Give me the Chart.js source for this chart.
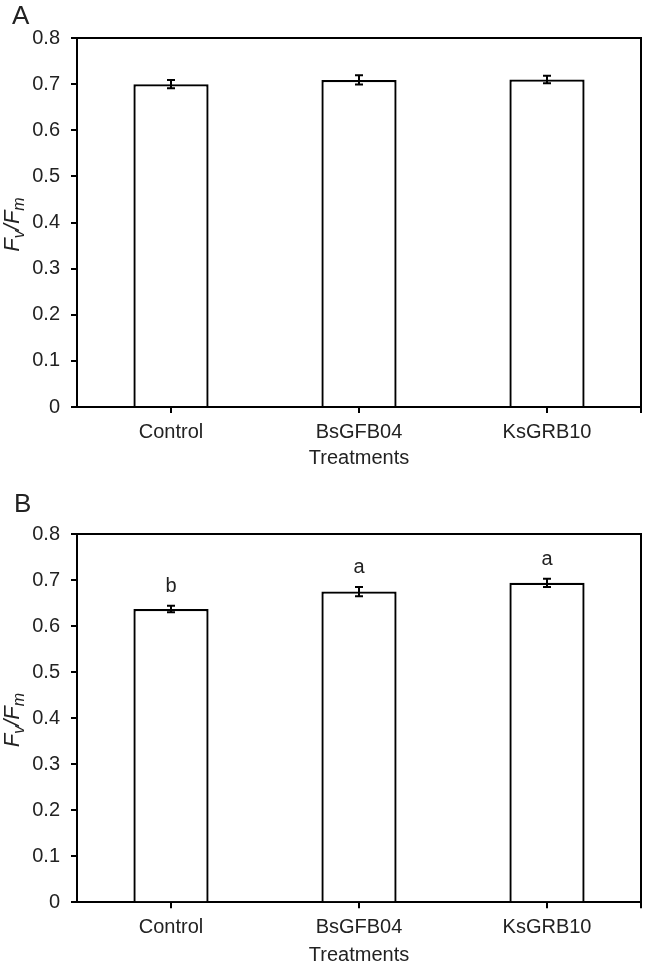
<!DOCTYPE html>
<html>
<head>
<meta charset="utf-8">
<script src="https://cdn.jsdelivr.net/npm/chart.js@4.4.0/dist/chart.umd.min.js"></script>
<style>
  html, body { margin:0; padding:0; background:#fff; width:645px; height:964px; overflow:hidden; }
  .wrap { position:absolute; left:0; width:645px; }
  #wa { top:0; height:482px; }
  #wb { top:482px; height:500px; }
  canvas { display:block; }
</style>
</head>
<body>
<div class="wrap" id="wa"><canvas id="ca" width="645" height="482"></canvas></div>
<div class="wrap" id="wb"><canvas id="cb" width="645" height="500"></canvas></div>
<script>
// ---- Data ----
const categories = ['Control', 'BsGFB04', 'KsGRB10'];
const valuesA = [0.700, 0.709, 0.710];
const errorsA = [0.009, 0.010, 0.008];
const valuesB = [0.637, 0.675, 0.694];
const errorsB = [0.007, 0.010, 0.009];
const lettersB = ['b', 'a', 'a'];
const yTicks = [0, 0.1, 0.2, 0.3, 0.4, 0.5, 0.6, 0.7, 0.8];
const xTitle = 'Treatments';

const FONT = '"Liberation Sans", Arial, Helvetica, sans-serif';
const TXT = '#222';

const decorPlugin = {
  id: 'decor',
  afterDatasetsDraw(chart, args, opts) {
    const ctx = chart.ctx;
    const ca = chart.chartArea;
    const ys = chart.scales.y;
    const meta = chart.getDatasetMeta(0);
    const vals = chart.data.datasets[0].data;
    ctx.save();
    // frame top & right
    ctx.strokeStyle = '#000';
    ctx.lineWidth = 2;
    ctx.beginPath();
    ctx.moveTo(ca.left, ca.top);
    ctx.lineTo(ca.right, ca.top);
    ctx.lineTo(ca.right, ca.bottom + 6);
    ctx.stroke();
    // error bars
    opts.errors.forEach((e, i) => {
      const x = meta.data[i].x;
      const yTop = ys.getPixelForValue(vals[i] + e);
      const yBot = ys.getPixelForValue(vals[i] - e);
      ctx.lineWidth = 2;
      ctx.beginPath();
      ctx.moveTo(x, yTop); ctx.lineTo(x, yBot);
      ctx.moveTo(x - 4, yTop); ctx.lineTo(x + 4, yTop);
      ctx.moveTo(x - 4, yBot); ctx.lineTo(x + 4, yBot);
      ctx.stroke();
      if (opts.letters) {
        ctx.fillStyle = TXT;
        ctx.font = '20px ' + FONT;
        ctx.textAlign = 'center';
        ctx.textBaseline = 'middle';
        ctx.fillText(opts.letters[i], x, yTop - 19);
      }
    });
    // panel letter
    ctx.fillStyle = TXT;
    ctx.font = '26px ' + FONT;
    ctx.textAlign = 'left';
    ctx.textBaseline = 'alphabetic';
    ctx.fillText(opts.panel, opts.panelX, opts.panelY);
    // y-axis title Fv/Fm rotated
    const cy = (ca.top + ca.bottom) / 2 + 2;
    const cx = 12;
    ctx.translate(cx, cy);
    ctx.rotate(-Math.PI / 2);
    const big = 'italic 22px ' + FONT, small = 'italic 16px ' + FONT;
    const parts = [['F', big, 0], ['v', small, 5], ['/', big, 0], ['F', big, 0], ['m', small, 5]];
    let total = 0;
    parts.forEach(p => { ctx.font = p[1]; total += ctx.measureText(p[0]).width; });
    let px = -total / 2;
    ctx.textBaseline = 'alphabetic';
    parts.forEach(p => {
      ctx.font = p[1];
      ctx.fillText(p[0], px, 7 + p[2]);
      px += ctx.measureText(p[0]).width;
    });
    ctx.restore();
  }
};

function makeChart(id, values, errors, letters, geom) {
  return new Chart(document.getElementById(id), {
    type: 'bar',
    data: {
      labels: categories,
      datasets: [{
        data: values,
        backgroundColor: '#fff',
        borderColor: '#000',
        borderWidth: 2.3,
        barPercentage: 0.4,
        categoryPercentage: 1.0
      }]
    },
    options: {
      responsive: false,
      animation: false,
      devicePixelRatio: 1,
      layout: { padding: { top: geom.top, left: 0, right: 4, bottom: 0 } },
      plugins: {
        legend: { display: false },
        tooltip: { enabled: false },
        decor: { errors: errors, letters: letters, panel: geom.panel, panelX: geom.panelX, panelY: geom.panelY }
      },
      scales: {
        y: {
          min: 0, max: 0.8,
          afterFit(s) { s.width = 77; },
          afterBuildTicks(s) { s.ticks = yTicks.map(v => ({ value: v })); },
          ticks: {
            color: TXT, padding: 11,
            font: { family: FONT, size: 20 },
            callback: v => (v === 0 ? '0' : v.toFixed(1))
          },
          grid: { display: true, drawOnChartArea: false, drawTicks: true, tickLength: 6, color: '#000', lineWidth: 2 },
          border: { display: true, color: '#000', width: 2 }
        },
        x: {
          offset: true,
          afterFit(s) { s.height = geom.xh; },
          ticks: { color: TXT, padding: 7, font: { family: FONT, size: 20 } },
          grid: { display: true, offset: false, drawOnChartArea: false, drawTicks: true, tickLength: 6, color: '#000', lineWidth: 2 },
          border: { display: true, color: '#000', width: 2 },
          title: { display: true, text: xTitle, color: TXT, font: { family: FONT, size: 20 }, padding: { top: 0, bottom: geom.tpb } }
        }
      }
    },
    plugins: [decorPlugin]
  });
}

makeChart('ca', valuesA, errorsA, null, { top: 38, xh: 75, tpb: 12, panel: 'A', panelX: 12, panelY: 24 });
makeChart('cb', valuesB, errorsB, lettersB, { top: 52, xh: 79.7, tpb: 15, panel: 'B', panelX: 14, panelY: 30 });
</script>
</body>
</html>
